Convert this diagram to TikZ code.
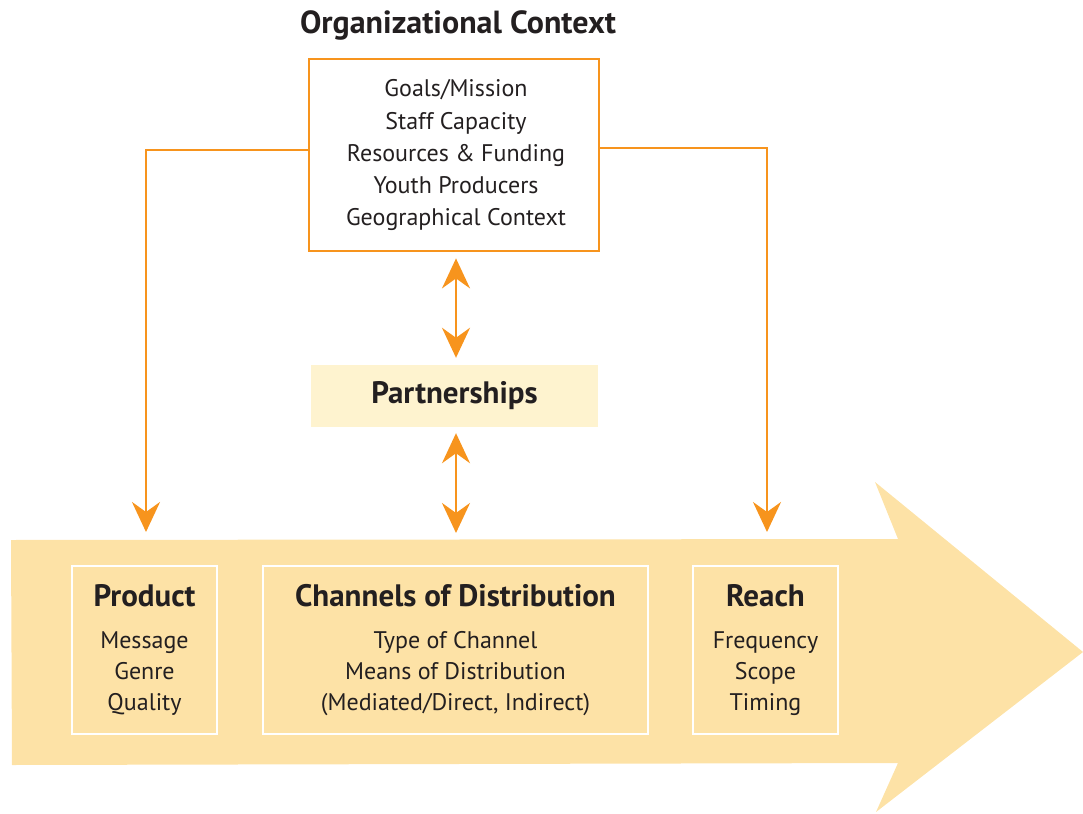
\documentclass[tikz,border=0pt]{standalone}
\usepackage{fontspec}
\setmainfont{PT Sans}
\usetikzlibrary{arrows.meta}
\definecolor{lineorange}{HTML}{F7941D}
\definecolor{arrowfill}{HTML}{FDE2A6}
\definecolor{partfill}{HTML}{FEF3CF}
\definecolor{inkgray}{HTML}{231F20}
\newcommand{\headfont}{\bfseries\fontsize{31}{36}\selectfont}
\newcommand{\bodyfont}{\fontsize{24}{31}\selectfont}
\begin{document}
\begin{tikzpicture}[x=1pt,y=-1pt,text=inkgray,
  link/.style={draw=lineorange,line width=2.5pt},
  tipend/.style={-{Stealth[length=30pt,width=28pt,inset=10pt]}},
  tipboth/.style={{Stealth[length=30pt,width=28pt,inset=10pt]}-{Stealth[length=30pt,width=28pt,inset=10pt]}},
  stagebox/.style={draw=white,line width=1.5pt,minimum height=168pt,align=center,font=\bodyfont}]
\useasboundingbox (0,0) rectangle (1083,813);
%Big arrow
\fill[arrowfill] (11,540) -- (898,539) -- (875,482) -- (1083,652) -- (876,812) -- (898,763) -- (12,765) -- cycle;
%Organization
\node[font=\bfseries\fontsize{32}{38}\selectfont] (title) at (458,25) {Organizational Context};
\node[draw=lineorange,line width=2.8pt,minimum width=290pt,minimum height=192pt] (org) at (454,155) {};
\node[align=center,font=\bodyfont] (orgtext) at (456,155)
  {Goals/Mission\\[1pt]Staff Capacity\\[1pt]Resources \& Funding\\[1pt]Youth Producers\\[1pt]Geographical Context};
\node[fill=partfill,minimum width=287pt,minimum height=62pt,font=\headfont] (part) at (454.5,396) {Partnerships};
%Stages
\node[stagebox,minimum width=145pt] (product) at (144.5,650)
  {{\headfont Product}\\[11pt]Message\\Genre\\Quality};
\node[stagebox,minimum width=385pt] (channels) at (455.5,650)
  {{\headfont Channels of Distribution}\\[11pt]Type of Channel\\Means of Distribution\\(Mediated/Direct, Indirect)};
\node[stagebox,minimum width=145pt] (reach) at (765.5,650)
  {{\headfont Reach}\\[11pt]Frequency\\Scope\\Timing};
%Connectors
\coordinate (lbend) at (146,150);
\coordinate (lend) at (146,532);
\coordinate (rbend) at (767,148);
\coordinate (rend) at (767,532);
\coordinate (mid) at (456,0);
\coordinate (cend) at (456,533);
\draw[link,tipend] (org.west |- lbend) -- (lbend) -- (lend);
\draw[link,tipend] (org.east |- rbend) -- (rbend) -- (rend);
\draw[link,tipboth,shorten <=6pt,shorten >=7pt] (org.south -| mid) -- (part.north -| mid);
\draw[link,tipboth,shorten <=6pt] (part.south -| mid) -- (cend);
\end{tikzpicture}
\end{document}
